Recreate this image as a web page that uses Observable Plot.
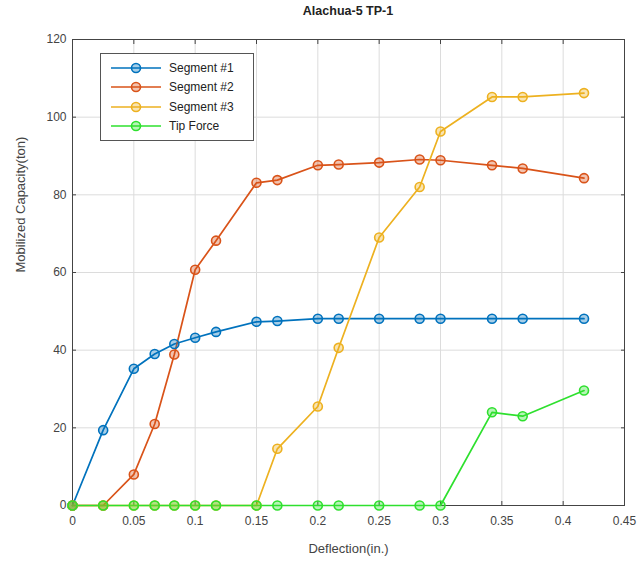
<!DOCTYPE html>
<html>
<head>
<meta charset="utf-8">
<script src="https://cdn.jsdelivr.net/npm/d3@7"></script>
<script src="https://cdn.jsdelivr.net/npm/@observablehq/plot@0.6"></script>
<style>
  html, body { margin: 0; padding: 0; background: #fff; }
  #wrap { position: relative; width: 640px; height: 563px; font-family: "Liberation Sans", Arial, sans-serif; }
  #title { position: absolute; left: 72px; width: 552px; top: 4px; text-align: center; font-weight: bold; font-size: 12.5px; color: #222; }
  #legend { position: absolute; left: 100px; top: 53px; width: 154px; height: 88px; border: 1px solid #555; background: #fff; box-sizing: border-box; }
  .item { position: absolute; left: 8px; height: 19px; display: flex; align-items: center; font-size: 12px; color: #222; }
  .item svg { margin-right: 6px; }
</style>
</head>
<body>
<div id="wrap">
  <div id="chart"></div>
  <div id="title">Alachua-5 TP-1</div>
  <div id="legend"></div>
</div>
<script>
const deflection = [0, 0.025, 0.05, 0.067, 0.083, 0.1, 0.117, 0.15, 0.167, 0.2, 0.217, 0.25, 0.283, 0.3, 0.342, 0.367, 0.417];
const segment1 = [0, 19.4, 35.2, 39, 41.6, 43.2, 44.7, 47.3, 47.5, 48.1, 48.1, 48.1, 48.1, 48.1, 48.1, 48.1, 48.1];
const segment2 = [0, 0, 8, 21, 38.9, 60.7, 68.2, 83.1, 83.8, 87.6, 87.8, 88.3, 89.1, 88.9, 87.6, 86.8, 84.3];
const segment3 = [0, 0, 0, 0, 0, 0, 0, 0, 14.6, 25.5, 40.6, 69, 82, 96.3, 105.2, 105.2, 106.2];
const tipForce = [0, 0, 0, 0, 0, 0, 0, 0, 0, 0, 0, 0, 0, 0, 24, 23, 29.6];
const seriesNames = ["Segment #1", "Segment #2", "Segment #3", "Tip Force"];
const seriesColors = ["#0072BD", "#D95319", "#EDB120", "#2EE02E"];
const xTicks = [0, 0.05, 0.1, 0.15, 0.2, 0.25, 0.3, 0.35, 0.4, 0.45];
const yTicks = [0, 20, 40, 60, 80, 100, 120];

const allSeries = [segment1, segment2, segment3, tipForce];
const rows = [];
allSeries.forEach((vals, si) => {
  vals.forEach((v, i) => rows.push({series: seriesNames[si], x: deflection[i], y: v}));
});
const color = {domain: seriesNames, range: seriesColors};

const fmt = d => d === 0 ? "0" : String(+d.toFixed(2));
const tickStyle = {stroke: "#444", tickSize: 4, text: null};

const chart = Plot.plot({
  width: 640,
  height: 563,
  marginLeft: 72,
  marginRight: 16,
  marginTop: 39,
  marginBottom: 58,
  style: {fontFamily: "Liberation Sans, Arial, sans-serif", fontSize: "12px", color: "#444"},
  x: {domain: [0, 0.45], ticks: xTicks, tickFormat: fmt, label: null},
  y: {domain: [0, 120], ticks: yTicks, label: null},
  color,
  marks: [
    Plot.gridX(xTicks, {stroke: "#dcdcdc", strokeOpacity: 1}),
    Plot.gridY(yTicks, {stroke: "#dcdcdc", strokeOpacity: 1}),
    Plot.frame({stroke: "#444"}),
    Plot.axisX({ticks: xTicks, tickFormat: fmt, tickSize: 0, tickPadding: 11, fill: "#444", fontSize: 12}),
    Plot.axisY({ticks: yTicks, tickSize: 0, tickPadding: 6, fill: "#444", fontSize: 12}),
    Plot.axisX({ticks: xTicks, ...tickStyle, dy: -4}),
    Plot.axisX({ticks: xTicks, anchor: "top", ...tickStyle, dy: 4}),
    Plot.axisY({ticks: yTicks, ...tickStyle, dx: 4}),
    Plot.axisY({ticks: yTicks, anchor: "right", ...tickStyle, dx: -4}),
    ...seriesNames.map(name => Plot.line(rows.filter(r => r.series === name), {x: "x", y: "y", stroke: "series", strokeWidth: 1.7})),
    ...seriesNames.map(name => Plot.dot(rows.filter(r => r.series === name), {x: "x", y: "y", stroke: "series", fill: "series", fillOpacity: 0.35, r: 4.5, strokeWidth: 1.6})),
    Plot.text(["Deflection(in.)"], {frameAnchor: "bottom", dy: 47, fontSize: 13, fill: "#444"}),
    Plot.text(["Mobilized Capacity(ton)"], {frameAnchor: "left", dx: -52, rotate: -90, fontSize: 13, fill: "#444"})
  ]
});
document.getElementById("chart").appendChild(chart);

// legend
const legend = document.getElementById("legend");
seriesNames.forEach((name, i) => {
  const div = document.createElement("div");
  div.className = "item";
  div.style.top = (4 + i * 19.5) + "px";
  div.innerHTML = `<svg width="54" height="12"><line x1="2" x2="52" y1="6" y2="6" stroke="${seriesColors[i]}" stroke-width="1.6"/><circle cx="27" cy="6" r="4.5" stroke="${seriesColors[i]}" stroke-width="1.6" fill="${seriesColors[i]}" fill-opacity="0.35"/></svg><span>${name}</span>`;
  legend.appendChild(div);
});
</script>
</body>
</html>
